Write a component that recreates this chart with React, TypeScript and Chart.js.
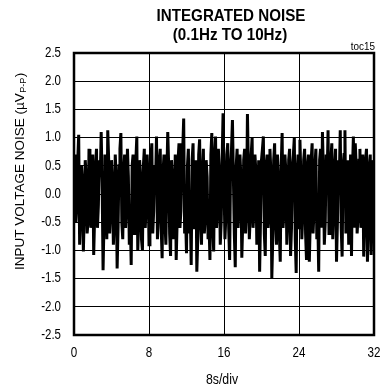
import React, { useEffect, useRef } from "react";
import { Chart, registerables } from "chart.js";

Chart.register(...registerables);

// Axis ranges (time axis in divisions of the 8s/div sweep, noise in µV)
const X_MIN = 0;
const X_MAX = 32;
const X_STEP = 8;
const Y_MIN = -2.5;
const Y_MAX = 2.5;
const Y_STEP = 0.5;

// Noise trace in µV, one sample every 0.1 division (10 samples per row)
const noiseValues: number[] = [
  0.3, 0.7, -0.5, -0.2, 0.6, 1.05, -0.9, -0.4, 0.5, 0.2,
  -1.02, -0.3, 0.6, 0.3, -0.7, -0.5, 0.8, 0.4, -0.6, -0.1,
  0.7, -1.08, -0.4, 0.5, 0.8, -0.6, -0.2, 0.6, 0.3, 1.1,
  0.2, -1.35, -0.5, 0.7, 0.4, -0.8, 1.13, 0.6, -0.7, -0.3,
  0.6, 0.2, -0.9, -0.5, 0.7, 0.3, -1.32, -0.6, 0.5, 0.8,
  1.08, -0.5, -0.8, 0.4, 0.7, -0.6, -0.2, 0.8, 0.3, -0.9,
  -0.4, -1.26, 0.5, 0.7, -0.7, -0.3, 0.6, 1.02, -1.0, -0.5,
  0.6, 0.3, -0.8, -1.0, 0.5, 0.8, -0.6, -0.2, 0.7, 0.3,
  -0.9, -0.5, 0.6, 0.9, -0.7, -0.3, 0.5, 0.2, 1.02, -0.8,
  -0.4, 0.6, 0.8, -0.6, -1.14, 0.4, 0.7, -0.5, -0.9, 0.3,
  1.1, 0.5, -0.7, -1.1, 0.6, 0.3, -0.8, -0.4, 0.7, -1.17,
  -0.5, 0.6, 0.9, -0.6, -0.3, 0.5, 0.8, 1.34, -0.7, -0.4,
  -1.05, 0.5, 0.8, -0.7, -0.3, -1.26, 0.6, 0.9, -0.6, -0.2,
  0.6, -1.38, -0.8, 0.7, 0.97, -0.5, -0.9, 0.4, 0.8, -0.7,
  -0.4, 0.6, 0.3, -0.8, -0.5, -1.17, 0.7, 1.08, -0.6, -1.02,
  0.7, 1.02, -0.6, -0.3, 0.8, 0.4, -0.9, -0.5, 0.6, 1.43,
  0.2, -0.8, -0.4, 0.7, 0.9, -0.6, -1.17, 0.5, 0.8, 1.31,
  0.3, -0.7, -1.3, 0.5, 0.8, -0.6, -0.2, 0.7, 0.3, -1.13,
  -0.5, 0.6, 0.8, -0.7, -0.3, 1.42, 0.5, -0.8, -0.4, 0.7,
  1.0, -0.6, -0.3, 0.7, 0.4, -0.9, -0.5, 0.6, -1.38, -0.4,
  0.6, 0.8, 1.02, -0.7, -1.1, 0.5, 0.7, -0.6, -0.3, 0.8,
  0.4, -1.49, -0.8, 0.6, 0.9, -0.5, -0.9, 0.7, 0.3, -0.7,
  -1.2, 0.5, 1.08, -0.6, -0.3, 0.7, 0.4, -0.9, -0.5, 0.6,
  0.8, -1.1, -0.6, 0.5, 0.7, 1.0, -0.8, -1.4, 0.4, 0.7,
  -0.6, 0.96, 0.3, -0.8, -0.4, 0.6, 0.8, -0.7, -1.17, 0.5,
  0.7, -1.2, -0.5, 0.6, 0.9, -0.7, -0.3, 0.5, 0.8, -0.8,
  -0.4, -1.38, 0.6, 0.8, -0.6, 1.1, 0.4, -0.9, -0.5, 0.7,
  0.3, 1.13, -0.7, -0.4, 0.6, 0.9, -0.8, -0.3, 0.5, 0.8,
  -1.2, -0.5, 0.6, 0.3, 1.13, -0.6, -1.11, 0.5, 0.7, 1.13,
  -0.7, -0.3, 0.6, -0.9, -0.5, 0.7, -1.1, 0.4, 1.02, -0.6,
  0.9, 0.5, -0.7, -0.4, 0.6, 0.8, -0.6, -0.3, 0.7, -1.11,
  -0.5, 0.6, 0.8, -1.2, -0.6, 0.5, 0.7, -1.08, -0.4, 0.6,
  0.2,
];
const SAMPLE_STEP = 0.1;

const X_TICKS = [0, 8, 16, 24, 32];
const Y_TICKS = [2.5, 2.0, 1.5, 1.0, 0.5, 0.0, -0.5, -1.0, -1.5, -2.0, -2.5];

const TITLE_LINES = ["INTEGRATED NOISE", "(0.1Hz TO 10Hz)"];
const FIGURE_TAG = "toc15";
const X_LABEL = "8s/div";
const Y_LABEL_MAIN = "INPUT VOLTAGE NOISE (\u00B5V";
const Y_LABEL_SUB = "P-P";
const Y_LABEL_END = ")";

const FONT = "'Liberation Sans', Arial, sans-serif";

// draw text squeezed horizontally to mimic a condensed face
function drawNarrow(
  ctx: CanvasRenderingContext2D,
  text: string,
  x: number,
  y: number,
  font: string,
  align: CanvasTextAlign,
  sx: number
) {
  ctx.save();
  ctx.font = font;
  ctx.textAlign = align;
  ctx.textBaseline = "middle";
  ctx.translate(x, y);
  ctx.scale(sx, 1);
  ctx.fillText(text, 0, 0);
  ctx.restore();
}

const textPlugin = {
  id: "noiseText",
  beforeDraw(chart: any) {
    const ctx = chart.ctx as CanvasRenderingContext2D;
    ctx.save();
    ctx.fillStyle = "#fff";
    ctx.fillRect(0, 0, chart.width, chart.height);
    ctx.restore();
  },
  afterDraw(chart: any) {
    const ctx = chart.ctx as CanvasRenderingContext2D;
    const area = chart.chartArea;
    const xs = chart.scales.x;
    const ys = chart.scales.y;
    ctx.save();
    // frame around the plot
    ctx.strokeStyle = "#000";
    ctx.lineWidth = 2.5;
    ctx.strokeRect(area.left, area.top, area.right - area.left, area.bottom - area.top);

    ctx.fillStyle = "#000";
    drawNarrow(ctx, TITLE_LINES[0], 231, 16, `bold 16.5px ${FONT}`, "center", 0.92);
    drawNarrow(ctx, TITLE_LINES[1], 230, 35, `bold 16.5px ${FONT}`, "center", 0.92);
    drawNarrow(ctx, FIGURE_TAG, area.right + 1, 46.5, `11px ${FONT}`, "right", 0.9);

    for (const v of Y_TICKS) {
      drawNarrow(ctx, v.toFixed(1), 61, ys.getPixelForValue(v), `14px ${FONT}`, "right", 0.82);
    }
    for (const v of X_TICKS) {
      drawNarrow(ctx, String(v), xs.getPixelForValue(v), 353, `14px ${FONT}`, "center", 0.83);
    }
    drawNarrow(ctx, X_LABEL, 222, 380, `14px ${FONT}`, "center", 0.88);

    // rotated y-axis title with subscript
    ctx.translate(20, 270);
    ctx.rotate(-Math.PI / 2);
    ctx.textAlign = "left";
    ctx.textBaseline = "middle";
    ctx.font = `13.5px ${FONT}`;
    ctx.fillText(Y_LABEL_MAIN, 0, 0);
    let w = ctx.measureText(Y_LABEL_MAIN).width;
    ctx.font = `9px ${FONT}`;
    ctx.fillText(Y_LABEL_SUB, w + 0.5, 4);
    w += ctx.measureText(Y_LABEL_SUB).width + 1;
    ctx.font = `13.5px ${FONT}`;
    ctx.fillText(Y_LABEL_END, w, 0);
    ctx.restore();
  },
};

export default function App() {
  const canvasRef = useRef<HTMLCanvasElement | null>(null);

  useEffect(() => {
    const canvas = canvasRef.current;
    if (!canvas) return;
    const points = noiseValues.map((v, i) => ({ x: i * SAMPLE_STEP, y: v }));
    const chart = new Chart(canvas, {
      type: "line",
      data: {
        datasets: [
          {
            data: points,
            borderColor: "#000",
            borderWidth: 3,
            pointRadius: 0,
            tension: 0,
            fill: false,
          },
        ],
      },
      plugins: [textPlugin],
      options: {
        animation: false,
        responsive: false,
        devicePixelRatio: 1,
        layout: { padding: { left: 0, right: 16, top: 53, bottom: 0 } },
        plugins: {
          legend: { display: false },
          tooltip: { enabled: false },
          title: { display: false },
        },
        scales: {
          x: {
            type: "linear",
            min: X_MIN,
            max: X_MAX,
            afterFit(scale: any) {
              scale.height = 55;
            },
            ticks: { stepSize: X_STEP, display: false },
            grid: { color: "#000", lineWidth: 1, drawTicks: false },
            border: { display: false },
          },
          y: {
            type: "linear",
            min: Y_MIN,
            max: Y_MAX,
            afterFit(scale: any) {
              scale.width = 74;
            },
            ticks: { stepSize: Y_STEP, display: false },
            grid: { color: "#000", lineWidth: 1, drawTicks: false },
            border: { display: false },
          },
        },
      },
    });
    return () => chart.destroy();
  }, []);

  return (
    <div style={{ position: "fixed", left: 0, top: 0, width: 390, height: 390, background: "#fff" }}>
      <canvas ref={canvasRef} width={390} height={390} style={{ width: 390, height: 390 }} />
    </div>
  );
}
